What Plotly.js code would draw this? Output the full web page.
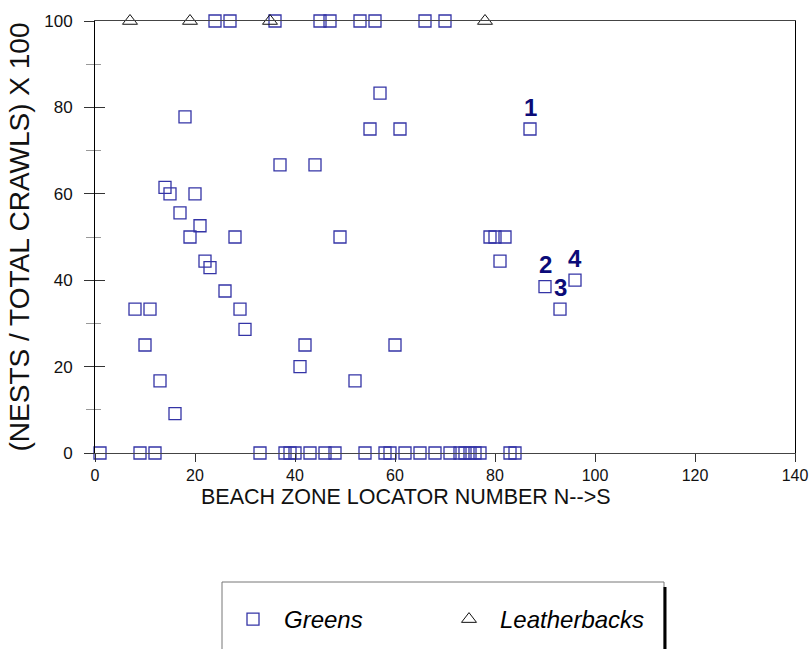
<!DOCTYPE html>
<html><head><meta charset="utf-8">
<script src="https://cdn.plot.ly/plotly-3.0.1.min.js"></script>
<style>html,body{margin:0;padding:0;background:#fff;} #chart{width:811px;height:649px;}</style>
</head><body><div id="chart"></div>
<script>
// ---- data ----
const greensX = [1,9,12,33,38,39,40,43,46,48,54,58,59,62,65,68,71,73,74,75,76,77,83,84,
                 24,27,36,45,47,53,56,66,70,
                 18,57,55,61,87,37,44,14,15,20,17,21,19,28,49,79,80,82,22,23,81,26,90,96,8,11,29,93,30,10,42,60,41,13,52,16];
const greensY = [0,0,0,0,0,0,0,0,0,0,0,0,0,0,0,0,0,0,0,0,0,0,0,0,
                 100,100,100,100,100,100,100,100,100,
                 77.8,83.3,75,75,75,66.7,66.7,61.5,60,60,55.6,52.6,50,50,50,50,50,50,44.4,42.9,44.4,37.5,38.5,40,33.3,33.3,33.3,33.3,28.6,25,25,25,20,16.7,16.7,9.1];
const leatherX = [7,19,35,78];
const leatherY = [100,100,100,100];
const labelText = ['1','2','3','4'];
const labelX = [87,90,93,96];
const labelY = [75,38.5,33.3,40];
const xTickVals = [0,20,40,60,80,100,120,140];
const yTickVals = [0,20,40,60,80,100];
const yMinorVals = [10,30,50,70,90];
const xTitle = 'BEACH ZONE LOCATOR NUMBER N-->S';
const yTitle = '(NESTS / TOTAL CRAWLS) X 100';
const seriesNames = ['Greens','Leatherbacks'];

const FONT = 'Liberation Sans, Arial, Helvetica, sans-serif';

const traces = [
  {type:'scatter', mode:'markers', name:seriesNames[0], x:greensX, y:greensY, cliponaxis:false,
   marker:{symbol:'square-open', size:12, color:'#3434a6', line:{width:1.3}}},
  {type:'scatter', mode:'markers', name:seriesNames[1], x:leatherX, y:leatherY, cliponaxis:false,
   marker:{symbol:'triangle-up-open', size:13, color:'#111111', line:{width:1}}},
  {type:'scatter', mode:'markers', x:[], y:[], yaxis:'y2', showlegend:false, hoverinfo:'skip'}
];

const annotations = labelText.map((t,i)=>({
  x:labelX[i], y:labelY[i], xref:'x', yref:'y', text:t, showarrow:false,
  yshift:22, xanchor:'center', yanchor:'middle',
  font:{family:FONT, size:24, weight:'bold', color:'#0b0b78'}
}));
annotations.push({
  x:(406-95)/700, y:(453-497)/432, xref:'paper', yref:'paper', text:xTitle, showarrow:false,
  xanchor:'center', yanchor:'middle', font:{family:FONT, size:21.5, color:'#111'}
});

const layout = {
  width:811, height:649,
  margin:{l:95, r:16, t:21, b:196, pad:0, autoexpand:false},
  paper_bgcolor:'#ffffff', plot_bgcolor:'#ffffff',
  font:{family:FONT, color:'#111'},
  xaxis:{range:[0,140], tickmode:'array', tickvals:xTickVals, ticks:'outside', ticklen:8, tickcolor:'#333',
         showline:true, linecolor:'#444', linewidth:1, mirror:true, showgrid:false, zeroline:false,
         tickfont:{size:16, family:FONT, color:'#111'}, fixedrange:true},
  yaxis:{range:[0,100], tickmode:'array', tickvals:yTickVals, ticks:'outside', ticklen:10, tickcolor:'#333',
         showline:true, linecolor:'#000', linewidth:1, mirror:true, showgrid:false, zeroline:false,
         tickfont:{size:17, family:FONT, color:'#111'}, ticklabelstandoff:8,
         minor:{tickmode:'array', tickvals:yMinorVals, ticks:'outside', ticklen:8, tickcolor:'#999', tickwidth:1},
         title:{text:yTitle, font:{size:28, family:FONT, color:'#111'}, standoff:6}, fixedrange:true},
  yaxis2:{overlaying:'y', side:'left', range:[0,100], tickmode:'array', tickvals:yTickVals, ticks:'inside', ticklen:10,
          tickcolor:'#333', showticklabels:false, showline:false, showgrid:false, zeroline:false,
          minor:{tickmode:'array', tickvals:yMinorVals, ticks:'inside', ticklen:6, tickcolor:'#999', tickwidth:1}, fixedrange:true},
  showlegend:true,
  legend:{orientation:'h', x:(222-95)/700, y:(453-597)/432, xanchor:'left', yanchor:'top',
          font:{family:FONT, size:24, style:'italic', color:'#000'},
          bgcolor:'rgba(0,0,0,0)', borderwidth:0, itemwidth:52, entrywidth:149},
  annotations:annotations,
  shapes:[
    {type:'rect', xref:'paper', yref:'paper', x0:(222-95)/700, x1:(664-95)/700, y0:(453-582)/432, y1:(453-670)/432,
     line:{color:'#777', width:1}, fillcolor:'rgba(0,0,0,0)'},
    {type:'line', xref:'paper', yref:'paper', x0:(665-95)/700, x1:(665-95)/700, y0:(453-587)/432, y1:(453-670)/432,
     line:{color:'#000', width:3}}
  ]
};

Plotly.newPlot('chart', traces, layout, {displayModeBar:false, staticPlot:true});
</script>
</body></html>
